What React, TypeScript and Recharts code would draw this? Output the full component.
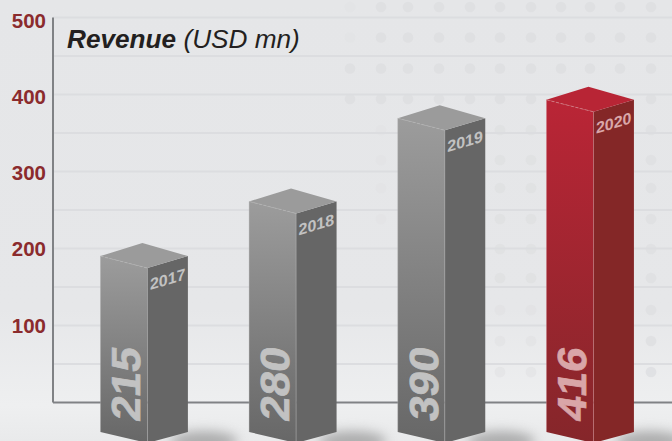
import { Bar, BarChart, CartesianGrid, XAxis, YAxis } from "recharts";

const YEARS = ["2017", "2018", "2019", "2020"];
// printed on the bars
const PRINTED = ["215", "280", "390", "416"];
// where the bar peaks actually sit against the axis, the artwork is not quite to scale
const DRAWN = [207, 278, 386, 410];
const HIGHLIGHT = "2020";

const Y_TICKS = [100, 200, 300, 400, 500];
const GRID_LINES = [50, 100, 150, 200, 250, 300, 350, 400, 450, 500];
const BASELINE = [0];

const DOT_COLUMNS = [350, 381, 408, 439, 470, 500, 531, 561, 590, 620, 651];
const DOT_ROWS = [7, 37.5, 68.5, 99];
const SIDE_COLUMNS = [500, 531, 651];
const SIDE_ROWS = [130, 160, 188, 219, 249, 278, 310, 341, 372];

const data = YEARS.map((year, i) => ({ year, drawn: DRAWN[i], printed: PRINTED[i] }));

const GREY = { front: "url(#greyFront)", side: "#666666", top: "#9b9b9b", edge: "#b4b4b4", text: "#c2c2c2" };
const RED = { front: "url(#redFront)", side: "#842727", top: "#b82535", edge: "#d58a8f", text: "#d9a6a8" };

function YTick({ x, y, payload }: any) {
  return (
    <text
      x={x}
      y={y}
      dy={2.5 - (500 - payload.value) * 0.007}
      textAnchor="end"
      dominantBaseline="central"
      fill="#8b2b2d"
      fontFamily="Liberation Sans"
      fontWeight={700}
      fontSize={20.5}
    >
      {payload.value}
    </text>
  );
}

function Block(props: any) {
  const { x, y, width, height, payload } = props;
  const c = payload.year === HIGHLIGHT ? RED : GREY;
  const base = y + height;
  const mid = x + 47;
  const right = x + width;
  const shoulder = y + 13;
  const ridge = y + 25;
  const foot = base + 29.5;
  const toe = foot + 11;
  return (
    <g>
      <ellipse cx={right + 16} cy={foot + 9} rx={34} ry={10} fill="#707070" opacity={0.5} style={{ filter: "blur(6px)" }} />
      <polygon points={`${x},${shoulder} ${mid},${ridge} ${mid},${toe} ${x},${foot}`} fill={c.front} />
      <polygon points={`${mid},${ridge} ${right},${shoulder} ${right},${foot} ${mid},${toe}`} fill={c.side} />
      <polygon points={`${x},${shoulder} ${x + 42},${y} ${right},${shoulder} ${mid},${ridge}`} fill={c.top} />
      <line x1={x} y1={shoulder} x2={mid} y2={ridge} stroke={c.edge} strokeDasharray="3 2" strokeWidth={0.7} />
      <line x1={mid} y1={ridge} x2={mid} y2={toe} stroke={c.edge} strokeWidth={0.7} opacity={0.7} />
      <line x1={x} y1={shoulder} x2={x} y2={foot} stroke={c.edge} strokeWidth={0.7} opacity={0.5} />
      <text
        transform={`matrix(0,-1,0.92,0.14,${x + 40},${base + 20})`}
        fontFamily="Liberation Sans"
        fontWeight={700}
        fontSize={44}
        fill={c.text}
        stroke={c.text}
        strokeWidth={0.8}
      >
        {payload.printed}
      </text>
      <text
        transform={`matrix(1,-0.3,0,1,${x + 49.5},${shoulder + 34})`}
        fontFamily="Liberation Sans"
        fontWeight={700}
        fontSize={16}
        fill={c.text}
      >
        {payload.year}
      </text>
    </g>
  );
}

export default function App() {
  return (
    <div
      style={{
        position: "absolute",
        left: 0,
        top: 0,
        width: 672,
        height: 441,
        overflow: "hidden",
        background: "linear-gradient(#e5e6e8 0%, #e6e7e9 70%, #eeeff0 92%, #e9eaeb 100%)",
      }}
    >
      <svg width={672} height={441} style={{ position: "absolute", left: 0, top: 0 }}>
        {DOT_ROWS.map((cy) =>
          DOT_COLUMNS.map((cx) => (
            <circle key={`${cx}-${cy}`} cx={cx} cy={cy} r={5.3} fill="#dfe0e2" opacity={cx === 350 && cy < 60 ? 0.3 : 1} />
          )),
        )}
        {SIDE_ROWS.map((cy) =>
          SIDE_COLUMNS.map((cx) => (
            <circle key={`${cx}-${cy}`} cx={cx} cy={cy} r={5.3} fill="#dfe0e2" opacity={cx === 651 ? 0.9 : cy > 300 ? 0.5 : 0.85} />
          )),
        )}
        {[130, 160, 188, 219].map((cy) => (
          <circle key={cy} cx={381} cy={cy} r={5.3} fill="#dfe0e2" opacity={0.35} />
        ))}
      </svg>
      <BarChart
        width={672}
        height={441}
        data={data}
        margin={{ top: 17.5, right: 0, bottom: 0, left: 0 }}
        barSize={87.5}
        style={{ position: "absolute", left: 0, top: 0 }}
      >
        <defs>
          <linearGradient id="greyFront" x1="0" y1="0" x2="0" y2="1">
            <stop offset="0%" stopColor="#9c9c9c" />
            <stop offset="100%" stopColor="#676767" />
          </linearGradient>
          <linearGradient id="redFront" x1="0" y1="0" x2="0" y2="1">
            <stop offset="0%" stopColor="#ba2536" />
            <stop offset="100%" stopColor="#85262a" />
          </linearGradient>
        </defs>
        <CartesianGrid vertical={false} stroke="#dcdde0" strokeWidth={2} horizontalValues={GRID_LINES} />
        {/* axis line as a grid line so the bars cover it */}
        <CartesianGrid vertical={false} stroke="#808285" strokeWidth={2} horizontalValues={BASELINE} />
        <XAxis
          dataKey="year"
          tick={false}
          tickLine={false}
          height={38.5}
          padding={{ left: 16.4, right: 7.9 }}
          axisLine={false}
        />
        <YAxis
          domain={[0, 500]}
          ticks={Y_TICKS}
          width={53}
          tickLine={false}
          tickMargin={1}
          axisLine={{ stroke: "#808285", strokeWidth: 2 }}
          tick={YTick}
        />
        <Bar dataKey="drawn" shape={Block} isAnimationActive={false} />
      </BarChart>
      <div
        style={{
          position: "absolute",
          left: 67,
          top: 25,
          fontFamily: "Liberation Sans",
          fontSize: 26.2,
          fontStyle: "italic",
          lineHeight: "29px",
          color: "#231f20",
          whiteSpace: "nowrap",
        }}
      >
        <b>Revenue</b> (USD mn)
      </div>
    </div>
  );
}
